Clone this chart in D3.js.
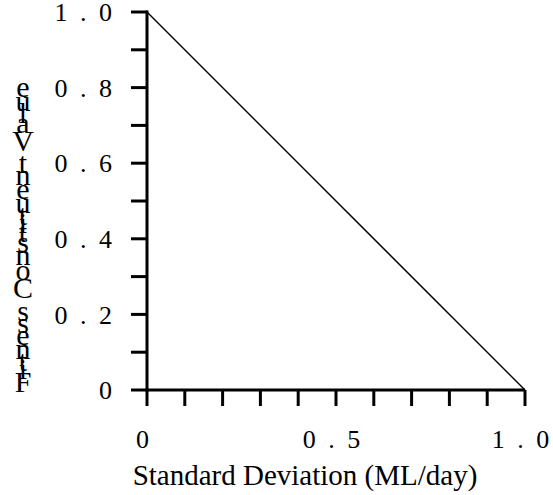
<!DOCTYPE html>
<html><head><meta charset="utf-8">
<script src="https://cdn.jsdelivr.net/npm/d3@7"></script>
<style>body{margin:0;background:#fff}svg{display:block}text{font-family:"Liberation Serif","Times New Roman",serif;fill:#000}</style>
</head><body><svg id="c" width="553" height="495"></svg>
<script>
const xValues = [0, 1.0];
const yValues = [1.0, 0];
const xTicks = [0,0.1,0.2,0.3,0.4,0.5,0.6,0.7,0.8,0.9,1.0];
const xTickLabels = [[0,"0"],[0.5,"0 . 5"],[1.0,"1 . 0"]];
const yTicks = [0.1,0.2,0.3,0.4,0.5,0.6,0.7,0.8,0.9,1.0];
const yTickLabels = [[0,"0"],[0.2,"0 . 2"],[0.4,"0 . 4"],[0.6,"0 . 6"],[0.8,"0 . 8"],[1.0,"1 . 0"]];
const xTitle = "Standard Deviation (ML/day)";
const yTitle = "Fitness Constituent Value";

const svg = d3.select("#c");
const x = d3.scaleLinear().domain([0,1]).range([147,525]);
const y = d3.scaleLinear().domain([0,1]).range([390,12]);
const tl = 16;

svg.append("line").attr("x1",x(0)-tl).attr("x2",x(1)).attr("y1",y(0)).attr("y2",y(0)).attr("stroke","#000").attr("stroke-width",3);
svg.append("line").attr("x1",x(0)).attr("x2",x(0)).attr("y1",y(0)+1.5).attr("y2",y(1)-1.5).attr("stroke","#000").attr("stroke-width",3);
svg.selectAll(".yt").data(yTicks).join("line").attr("x1",x(0)-tl).attr("x2",x(0)).attr("y1",d=>y(d)).attr("y2",d=>y(d)).attr("stroke","#000").attr("stroke-width",3);
svg.selectAll(".xt").data(xTicks).join("line").attr("x1",d=>x(d)).attr("x2",d=>x(d)).attr("y1",y(0)).attr("y2",y(0)+tl).attr("stroke","#000").attr("stroke-width",3);

svg.selectAll(".yl").data(yTickLabels).join("text").attr("x",115).attr("y",d=>y(d[0])).attr("dy","0.35em")
  .attr("text-anchor","end").style("font-size","26px").style("letter-spacing","3px").text(d=>d[1]);
svg.selectAll(".xl").data(xTickLabels).join("text").attr("x",d=>x(d[0])-3).attr("y",448)
  .attr("text-anchor","middle").style("font-size","26px").style("letter-spacing","3px").text(d=>d[1]);

svg.append("text").attr("x",305).attr("y",485).attr("text-anchor","middle").style("font-size","29px").text(xTitle);

// stacked y title: rotated baseline, upright glyphs, advance by glyph width
const fs = 30;
const tmp = svg.append("text").style("font-size",fs+"px");
const chars = yTitle.split("").map(c => {
  tmp.text(c === " " ? "\u00a0" : c);
  return {c, w: tmp.node().getComputedTextLength()};
});
tmp.remove();
let cum = 0;
chars.forEach(d => { d.mid = cum + d.w/2; cum += d.w; });
const base = 382 + chars[0].w/2;
svg.selectAll(".yc").data(chars.filter(d=>d.c!==" ")).join("text").attr("x",23)
  .attr("y",d=>base - d.mid).attr("dy","0.33em")
  .attr("text-anchor","middle").style("font-size",fs+"px").text(d=>d.c);

const line = d3.line().x((d,i)=>x(xValues[i])).y(d=>y(d));
svg.append("path").datum(yValues).attr("d",line).attr("fill","none").attr("stroke","#000").attr("stroke-width",1.5);
</script></body></html>
